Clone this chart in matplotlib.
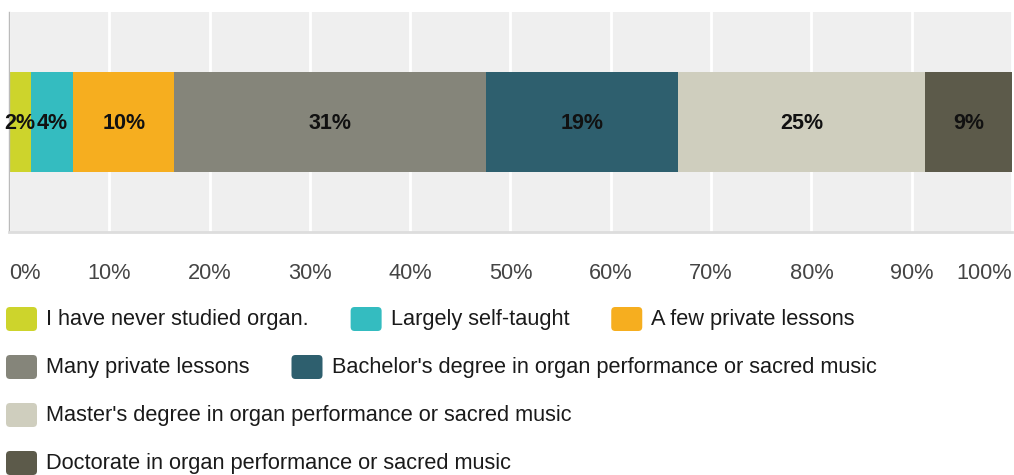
import matplotlib
matplotlib.use('Agg')
import matplotlib.pyplot as plt
from matplotlib.patches import FancyBboxPatch

plt.rcParams['font.family'] = ['Liberation Sans', 'DejaVu Sans']

# share of respondents per level of organ training (%)
categories = [
    'I have never studied organ.',
    'Largely self-taught',
    'A few private lessons',
    'Many private lessons',
    "Bachelor's degree in organ performance or sacred music",
    "Master's degree in organ performance or sacred music",
    'Doctorate in organ performance or sacred music',
]
shares = [2.2, 4.2, 10.1, 31.1, 19.1, 24.6, 8.7]
colors = ['#cdd42c', '#34bcc0', '#f6ae1f', '#85857a', '#2e5f6e', '#cfcebe', '#5c5a4a']
tick_values = list(range(0, 101, 10))
tick_labels = [f'{v}%' for v in tick_values]

W, H = 1014, 475
DPI = 100
FS = 15.7
fig = plt.figure(figsize=(W / DPI, H / DPI), dpi=DPI)
ax = fig.add_axes([9 / W, 1 - 232 / H, 1003 / W, 220 / H])
ax.set_facecolor('#efefef')

left = 0
for cat, val, col in zip(categories, shares, colors):
    ax.barh(0, val, left=left, height=1.0, color=col, edgecolor='none', zorder=2)
    ax.text(left + val / 2, -0.02, f'{val:.0f}%', ha='center', va='center',
            fontsize=15.5, fontweight='bold', color='#111111', zorder=3)
    left += val

ax.set_xlim(0, 100)
ax.set_ylim(-1.1, 1.1)
ax.set_yticks([])
ax.set_xticks(tick_values)
ax.set_xticklabels(tick_labels, fontsize=FS, color='#444444')
labels = ax.get_xticklabels()
labels[0].set_ha('left')
labels[-1].set_ha('right')
ax.tick_params(axis='x', length=0, pad=22)
ax.grid(axis='x', color='white', linewidth=2, zorder=1)
ax.set_axisbelow(True)
for side in ['top', 'right']:
    ax.spines[side].set_visible(False)
ax.spines['left'].set_color('#bbbbbb')
ax.spines['left'].set_linewidth(1)
ax.spines['bottom'].set_color('#dddddd')
ax.spines['bottom'].set_linewidth(2)

# legend laid out as wrapped rows below the axis
renderer = fig.canvas.get_renderer()
x0, x = 6, 6
row_y = 319
for cat, col in zip(categories, colors):
    t = fig.text(0, 0, cat, fontsize=FS, color='#1a1a1a', va='center',
                 transform=fig.dpi_scale_trans)
    tw = t.get_window_extent(renderer).width
    if x + 40 + tw > W - 4:
        x = x0
        row_y += 48
    t.set_position(((x + 40) / DPI, (H - row_y) / DPI))
    box = FancyBboxPatch((x / DPI, (H - row_y - 12) / DPI), 31 / DPI, 24 / DPI,
                         boxstyle='round,pad=0,rounding_size=0.04',
                         facecolor=col, edgecolor='none',
                         transform=fig.dpi_scale_trans)
    fig.patches.append(box)
    x += 40 + tw + 42

fig.savefig('out.png', dpi=DPI)
